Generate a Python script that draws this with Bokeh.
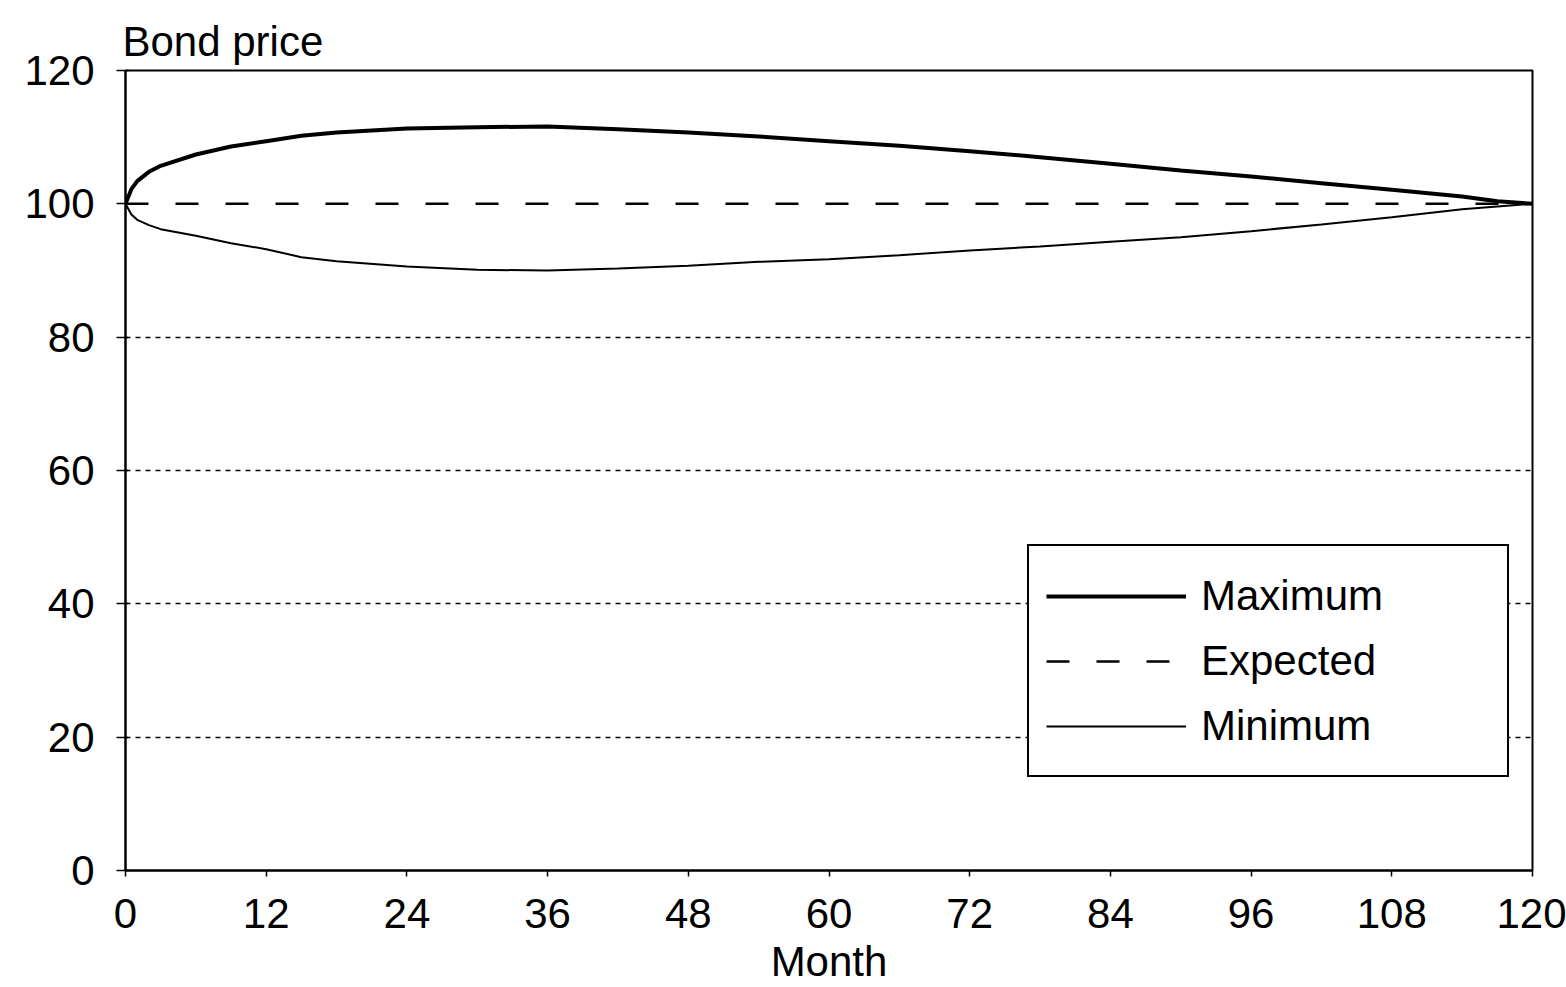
from bokeh.plotting import figure
from bokeh.models import Legend, LegendItem, FixedTicker
from bokeh.embed import file_html
from bokeh.resources import INLINE

# ---- data ----
months = [0, 0.5, 1, 2, 3, 6, 9, 12, 15, 18, 24, 30, 36, 42, 48, 54, 60, 66, 72, 78, 84, 90, 96, 102, 108, 114, 117, 120]
maximum = [100, 102.2, 103.4, 104.8, 105.7, 107.4, 108.6, 109.4, 110.2, 110.7, 111.3, 111.5, 111.6, 111.2, 110.7, 110.1,
           109.4, 108.7, 107.9, 107.0, 106.0, 105.0, 104.1, 103.1, 102.1, 101.1, 100.4, 100]
minimum = [100, 98.4, 97.6, 96.8, 96.2, 95.2, 94.1, 93.2, 92.0, 91.4, 90.6, 90.1, 90.0, 90.3, 90.7, 91.3,
           91.7, 92.3, 93.0, 93.6, 94.3, 95.0, 95.9, 96.9, 98.0, 99.2, 99.6, 100]
expected_months = [0, 120]
expected = [100, 100]

x_ticks = [0, 12, 24, 36, 48, 60, 72, 84, 96, 108, 120]
y_ticks = [0, 20, 40, 60, 80, 100, 120]
grid_levels = [20, 40, 60, 80]

FONT = "Liberation Sans"

p = figure(frame_width=1407, frame_height=800,
           x_range=(0, 120), y_range=(0, 120),
           output_backend="svg", toolbar_location=None,
           min_border_left=125, min_border_right=34,
           min_border_top=70, min_border_bottom=112,
           background_fill_color="white", border_fill_color="white")

p.outline_line_color = "black"
p.outline_line_width = 2

# title (y-axis caption at the top-left)
p.title.text = "Bond price"
p.title.align = "left"
p.title.text_font = FONT
p.title.text_font_size = "42px"
p.title.text_font_style = "normal"
p.title.text_color = "black"
p.title.offset = -3
p.title.standoff = 12

# grids
p.xgrid.visible = False
p.ygrid.ticker = FixedTicker(ticks=grid_levels)
p.ygrid.grid_line_color = "black"
p.ygrid.grid_line_width = 1.5
p.ygrid.grid_line_dash = "5 5"

# axes
p.xaxis.ticker = FixedTicker(ticks=x_ticks)
p.yaxis.ticker = FixedTicker(ticks=y_ticks)
for ax in (p.xaxis[0], p.yaxis[0]):
    ax.axis_line_color = "black"
    ax.axis_line_width = 2
    ax.major_tick_line_color = "black"
    ax.major_tick_line_width = 1.5
    ax.minor_tick_line_color = None
    ax.major_label_text_font = FONT
    ax.major_label_text_font_size = "42px"
    ax.major_label_text_color = "black"
p.xaxis.major_tick_out = 6
p.xaxis.major_tick_in = 0
p.yaxis.major_tick_out = 9
p.yaxis.major_tick_in = 3
p.xaxis.major_label_standoff = 22
p.yaxis.major_label_standoff = 22

p.xaxis.axis_label = "Month"
p.xaxis.axis_label_text_font = FONT
p.xaxis.axis_label_text_font_size = "42px"
p.xaxis.axis_label_text_font_style = "normal"
p.xaxis.axis_label_text_color = "black"
p.xaxis.axis_label_standoff = 7

# lines
r_max = p.line(months, maximum, line_color="black", line_width=4)
r_exp = p.line(expected_months, expected, line_color="black", line_width=2.5, line_dash="23 27")
r_min = p.line(months, minimum, line_color="black", line_width=2)

legend = Legend(items=[LegendItem(label="Maximum", renderers=[r_max]),
                       LegendItem(label="Expected", renderers=[r_exp]),
                       LegendItem(label="Minimum", renderers=[r_min])],
                location=(902, 93))
legend.label_text_font = FONT
legend.label_text_font_size = "42px"
legend.label_text_color = "black"
legend.label_height = 65
legend.label_width = 289
legend.glyph_height = 20
legend.glyph_width = 140
legend.label_standoff = 15
legend.spacing = 0
legend.padding = 17
legend.margin = 0
legend.border_line_color = "black"
legend.border_line_alpha = 1
legend.border_line_width = 2
legend.background_fill_color = "white"
legend.background_fill_alpha = 1
p.add_layout(legend)

open("out.html", "w").write(file_html(p, INLINE))
